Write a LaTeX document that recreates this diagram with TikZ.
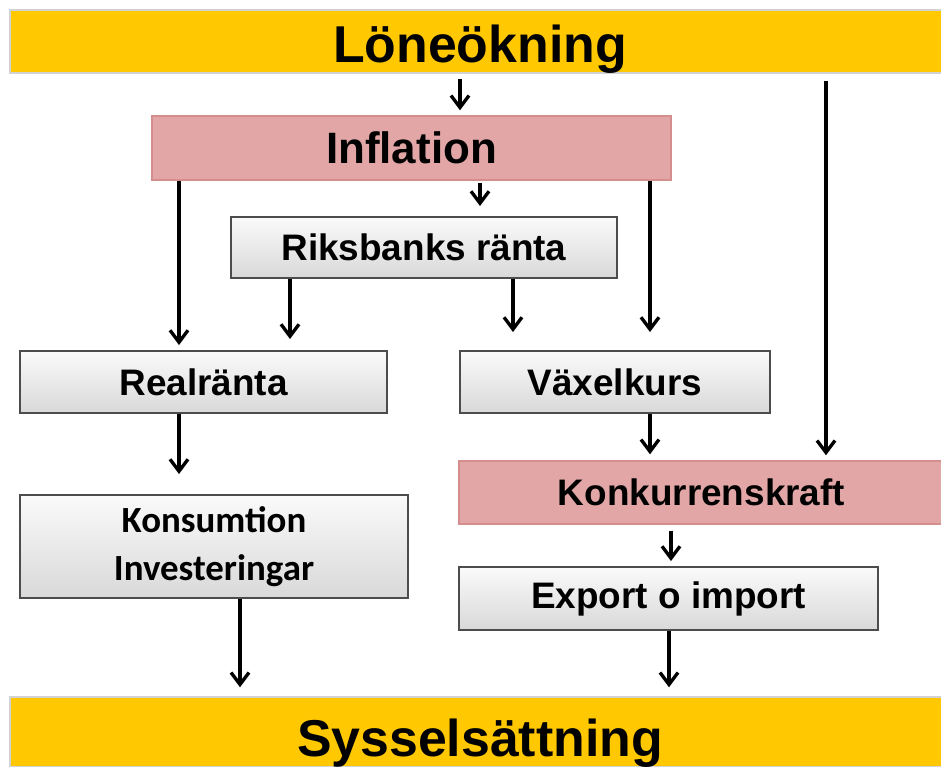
\documentclass[tikz,border=0pt]{standalone}
\usepackage{fontspec}
\setmainfont{Liberation Sans}
\newfontfamily\calfont{Carlito}
\usetikzlibrary{arrows.meta, shadows}
\definecolor{baryellow}{RGB}{255,200,0}
\definecolor{boxred}{RGB}{226,166,166}
\definecolor{boxredline}{RGB}{212,142,142}
\tikzset{
  bar/.style={rectangle, fill=baryellow, draw=gray!35, line width=0.8pt,
    minimum width=18.8cm, inner ysep=0pt, font=\bfseries\fontsize{29.5}{32}\selectfont},
  redbox/.style={rectangle, fill=boxred, draw=boxredline, line width=0.8pt,
    font=\bfseries\fontsize{21}{24}\selectfont, align=center},
  greybox/.style={rectangle, top color=gray!4, bottom color=gray!30,
    draw=black!70, line width=1.1pt,
    drop shadow={shadow xshift=0.8pt, shadow yshift=-0.8pt, opacity=0.3},
    font=\bfseries\fontsize{21}{24}\selectfont, align=center},
  flow/.style={-{Straight Barb[length=2.4mm, width=3.6mm]}, line width=1.9pt,
    shorten >=0.1cm}
}

\begin{document}
\begin{tikzpicture}[x=0.02cm, y=-0.02cm]
\clip (0,0) rectangle (941,767);
\fill[white] (0,0) rectangle (941,767);

% Top and bottom bars
\node[bar, text height=1.06cm, text depth=0.2cm] (lon) at (480,41.5) {Löneökning};
\node[bar, text height=1.2cm, text depth=0.2cm] (syss) at (480,732) {Sysselsättning};

% Boxes
\node[redbox, minimum width=10.38cm, minimum height=1.28cm, font=\bfseries\fontsize{25}{28}\selectfont] (infl) at (411.5,148) {Inflation};
\node[greybox, minimum width=7.72cm, minimum height=1.22cm] (riks) at (424,247.5) {Riksbanks ränta};
\node[greybox, minimum width=7.34cm, minimum height=1.24cm] (real) at (203.5,382) {Realränta};
\node[greybox, minimum width=6.2cm, minimum height=1.24cm] (vax) at (615,382) {Växelkurs};
\node[greybox, minimum width=7.76cm, minimum height=2.06cm,
  font=\calfont\bfseries\fontsize{21}{27}\selectfont] (kons) at (214,546.5) {Konsumtion\\Investeringar};
\node[redbox, minimum width=9.7cm, minimum height=1.26cm] (konk) at (701.5,492.5) {Konkurrenskraft};
\node[greybox, minimum width=8.38cm, minimum height=1.26cm] (exp) at (668.5,598.5) {Export o import};

% Arrows
\draw[flow, shorten <=0.1cm] (lon.south -| 460,0) -- (infl.north -| 460,0);
\draw[flow, shorten <=0.14cm] (lon.south -| 826,0) -- (konk.north -| 826,0);
\draw[flow, shorten <=0.04cm, shorten >=0.2cm] (infl.south -| 480,0) -- (riks.north -| 480,0);
\draw[flow] (infl.south -| 179,0) -- (real.north -| 179,0);
\draw[flow, shorten >=0.36cm] (infl.south -| 650,0) -- (vax.north -| 650,0);
\draw[flow, shorten >=0.22cm] (riks.south -| 290,0) -- (real.north -| 290,0);
\draw[flow, shorten >=0.36cm] (riks.south -| 513,0) -- (vax.north -| 513,0);
\draw[flow, shorten >=0.4cm] (real.south -| 179,0) -- (kons.north -| 179,0);
\draw[flow, shorten >=0.12cm] (vax.south -| 650,0) -- (konk.north -| 650,0);
\draw[flow, shorten <=0.12cm] (konk.south -| 671,0) -- (exp.north -| 671,0);
\draw[flow, shorten >=0.18cm] (exp.south -| 669,0) -- (syss.north -| 669,0);
\draw[flow, shorten >=0.18cm] (kons.south -| 240,0) -- (syss.north -| 240,0);

\end{tikzpicture}
\end{document}
